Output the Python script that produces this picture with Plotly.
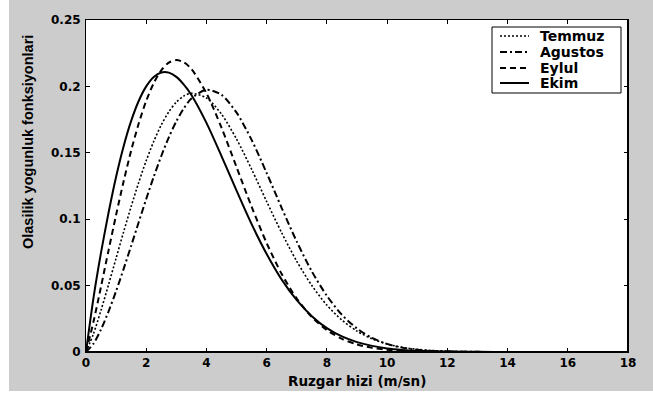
import plotly.graph_objects as go

# Wind speed (m/s) sample positions
speed = [0, 0.25, 0.5, 0.75, 1, 1.25, 1.5, 1.75, 2, 2.25, 2.5, 2.75, 3, 3.25, 3.5, 4, 4.5,
         5, 5.5, 6, 6.5, 7, 7.5, 8, 8.5, 9, 9.5, 10, 10.5, 11, 11.5, 12, 13, 14, 16, 18]

# Probability density values
temmuz = [0.0, 0.0138, 0.0316, 0.0508, 0.0707, 0.0905, 0.1096, 0.1276, 0.1441, 0.1586,
          0.171, 0.1808, 0.1882, 0.1928, 0.1948, 0.1913, 0.1791, 0.1603, 0.1376, 0.1133,
          0.0897, 0.0683, 0.0501, 0.0353, 0.024, 0.0157, 0.0099, 0.006, 0.0035, 0.002,
          0.0011, 0.0006, 0.0001, 0.0, 0.0, 0.0]
agustos = [0.0, 0.0063, 0.0171, 0.0306, 0.0459, 0.0626, 0.08, 0.0977, 0.1152, 0.132,
           0.1476, 0.1616, 0.1737, 0.1835, 0.1908, 0.1975, 0.1936, 0.1802, 0.1597, 0.1348,
           0.1084, 0.0831, 0.0607, 0.0423, 0.028, 0.0177, 0.0106, 0.0061, 0.0033, 0.0017,
           0.0008, 0.0004, 0.0001, 0.0, 0.0, 0.0]
eylul = [0.0, 0.0229, 0.0494, 0.0766, 0.1033, 0.1285, 0.1517, 0.172, 0.1891, 0.2025,
         0.2121, 0.2179, 0.2198, 0.2181, 0.2131, 0.1949, 0.1689, 0.1392, 0.1094, 0.082,
         0.0587, 0.0402, 0.0264, 0.0165, 0.0099, 0.0057, 0.0031, 0.0017, 0.0008, 0.0004,
         0.0002, 0.0001, 0.0, 0.0, 0.0, 0.0]
ekim = [0.0, 0.041, 0.075, 0.105, 0.132, 0.155, 0.174, 0.189, 0.200, 0.2071,
        0.2105, 0.2104, 0.2072, 0.2013, 0.1935, 0.1725, 0.1475, 0.1215, 0.0963, 0.0738,
        0.0545, 0.039, 0.027, 0.018, 0.0117, 0.0074, 0.0046, 0.0027, 0.0016, 0.0009,
        0.0005, 0.0003, 0.0001, 0.0, 0.0, 0.0]

series_names = ["Temmuz", "Agustos", "Eylul", "Ekim"]
series_values = [temmuz, agustos, eylul, ekim]

x_ticks = [0, 2, 4, 6, 8, 10, 12, 14, 16, 18]
y_ticks = [0, 0.05, 0.1, 0.15, 0.2, 0.25]
y_tick_labels = ["0", "0.05", "0.1", "0.15", "0.2", "0.25"]

x_title = "Ruzgar hizi (m/sn)"
y_title = "Olasilik yogunluk fonksiyonlari"

styles = [("2px,2px", 1.6), ("7px,3px,2px,3px", 2), ("6px,4px", 2), ("solid", 2)]

W, H = 653, 396
ML, MR, MT, MB = 86, 25, 20, 44
PW, PH = W - ML - MR, H - MT - MB


def px(xp):
    return (xp - ML) / PW


def py(yp):
    return (H - MB - yp) / PH


TICKFONT = "DejaVu Sans, Verdana, sans-serif"

fig = go.Figure()
for name, vals, (dash, w) in zip(series_names, series_values, styles):
    fig.add_trace(go.Scatter(
        x=speed, y=vals, name=name, mode="lines", showlegend=False,
        line=dict(color="black", dash=dash, width=w, shape="spline", smoothing=0.8),
    ))

axis_common = dict(
    showline=True, linecolor="black", linewidth=1, mirror="allticks",
    ticks="inside", ticklen=4, tickcolor="black", tickwidth=1,
    showgrid=False, zeroline=False,
    tickfont=dict(family=TICKFONT, size=12, color="black", weight="bold"),
)

fig.update_xaxes(range=[0, 18], tickvals=x_ticks, **axis_common)
fig.update_yaxes(range=[0, 0.25], tickvals=y_ticks, ticktext=y_tick_labels,
                 ticklabelstandoff=2, **axis_common)

# axis titles
fig.add_annotation(
    text=x_title, xref="paper", yref="paper", x=px(357), y=py(381),
    showarrow=False, xanchor="center", yanchor="middle",
    font=dict(family=TICKFONT, size=13.5, color="black", weight="bold"),
)
fig.add_annotation(
    text=y_title, xref="paper", yref="paper", x=px(28), y=py(142),
    textangle=-90, showarrow=False, xanchor="center", yanchor="middle",
    font=dict(family="Liberation Sans, Arial, sans-serif", size=14.5, color="black", weight="bold"),
)

# thicker bottom/right frame edges
fig.add_shape(type="line", xref="paper", yref="paper", x0=0, x1=1, y0=0, y1=0,
              line=dict(color="black", width=2))
fig.add_shape(type="line", xref="paper", yref="paper", x0=1, x1=1, y0=0, y1=1,
              line=dict(color="black", width=2))
# white margins of the scanned figure
fig.add_shape(type="rect", xref="paper", yref="paper", x0=px(-5), x1=px(9), y0=py(400), y1=py(-5),
              line=dict(width=0), fillcolor="white")
fig.add_shape(type="rect", xref="paper", yref="paper", x0=px(-5), x1=px(660), y0=py(400), y1=py(391),
              line=dict(width=0), fillcolor="white")

# legend box (drawn manually to match the original's compact layout)
fig.add_shape(type="rect", xref="paper", yref="paper", x0=px(492), x1=px(621), y0=py(93), y1=py(27),
              line=dict(color="black", width=1), fillcolor="white")
row_y = [36, 52, 68, 83]
for name, (dash, w), ry in zip(series_names, styles, row_y):
    fig.add_shape(type="line", xref="paper", yref="paper", x0=px(500), x1=px(529), y0=py(ry), y1=py(ry),
                  line=dict(color="black", width=w, dash=dash))
    fig.add_annotation(
        text=name, xref="paper", yref="paper", x=px(538), y=py(ry),
        showarrow=False, xanchor="left", yanchor="middle",
        font=dict(family=TICKFONT, size=14, color="black", weight="bold"),
    )

fig.update_layout(
    width=W, height=H,
    margin=dict(l=ML, r=MR, t=MT, b=MB),
    paper_bgcolor="#cccccc", plot_bgcolor="white",
    showlegend=False,
)

fig.write_html("out.html", config={"displayModeBar": False},
               post_script="document.body.style.margin='0px';")
